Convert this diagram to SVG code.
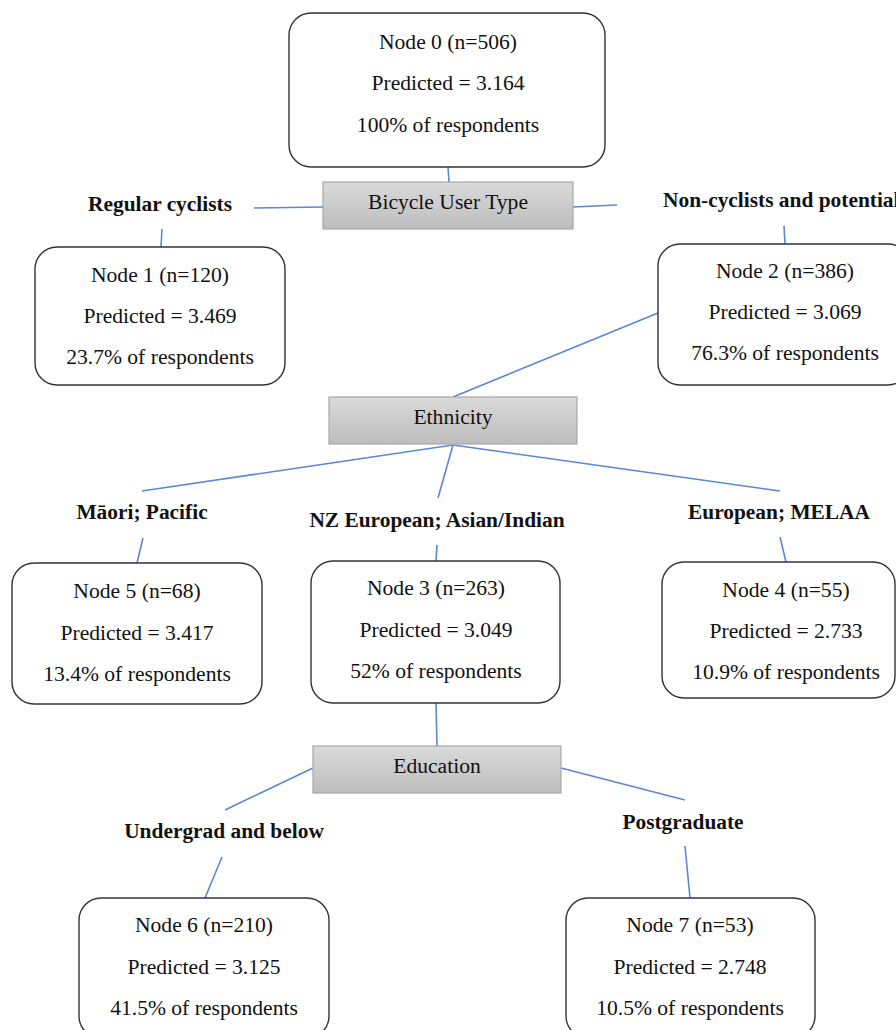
<svg xmlns="http://www.w3.org/2000/svg" width="896" height="1030" viewBox="0 0 896 1030">
<defs>
<linearGradient id="g" x1="0" y1="0" x2="0" y2="1">
<stop offset="0" stop-color="#dadada"/>
<stop offset="1" stop-color="#bdbdbd"/>
</linearGradient>
<style>
.node{fill:#fff;stroke:#333;stroke-width:1.4}
.split{fill:url(#g);stroke:#a8a8a8;stroke-width:1.2}
.t{font-family:'Liberation Serif','Times New Roman',serif;font-size:21.6px;fill:#111;text-anchor:middle}
.b{font-family:'Liberation Serif','Times New Roman',serif;font-size:21.4px;font-weight:bold;fill:#111;text-anchor:middle}
.c{stroke:#5b87d6;stroke-width:1.6;fill:none}
</style>
</defs>
<rect width="896" height="1030" fill="#fff"/>
<g id="connectors">
<line class="c" x1="448" y1="167" x2="449" y2="182"/>
<line class="c" x1="323" y1="207" x2="254" y2="208"/>
<line class="c" x1="573" y1="207" x2="617" y2="205"/>
<line class="c" x1="162" y1="229" x2="161" y2="247"/>
<line class="c" x1="784" y1="226" x2="785" y2="244"/>
<line class="c" x1="658" y1="313" x2="453" y2="397"/>
<line class="c" x1="453" y1="445" x2="142" y2="491"/>
<line class="c" x1="453" y1="445" x2="438" y2="498"/>
<line class="c" x1="453" y1="445" x2="780" y2="491"/>
<line class="c" x1="143" y1="538" x2="137" y2="563"/>
<line class="c" x1="437" y1="545" x2="436" y2="561"/>
<line class="c" x1="780" y1="537" x2="786" y2="562"/>
<line class="c" x1="436" y1="703" x2="437" y2="746"/>
<line class="c" x1="313" y1="768" x2="225" y2="810"/>
<line class="c" x1="561" y1="768" x2="685" y2="800"/>
<line class="c" x1="222" y1="857" x2="205" y2="898"/>
<line class="c" x1="685" y1="846" x2="690" y2="898"/>
</g>
<g id="node0">
<rect class="node" x="289" y="13" width="316" height="154" rx="22"/>
<text class="t" x="448" y="49">Node 0 (n=506)</text>
<text class="t" x="448" y="90">Predicted = 3.164</text>
<text class="t" x="448" y="132">100% of respondents</text>
</g>
<g id="split-bicycle">
<rect class="split" x="323" y="182" width="250" height="47"/>
<text class="t" x="448" y="209">Bicycle User Type</text>
</g>
<g id="label-regular"><text class="b" x="160" y="211">Regular cyclists</text></g>
<g id="label-noncyclists"><text class="b" x="663" y="207" style="text-anchor:start">Non-cyclists and potential</text></g>
<g id="node1">
<rect class="node" x="35" y="247" width="250" height="138" rx="22"/>
<text class="t" x="160" y="282">Node 1 (n=120)</text>
<text class="t" x="160" y="323">Predicted = 3.469</text>
<text class="t" x="160" y="364">23.7% of respondents</text>
</g>
<g id="node2">
<rect class="node" x="658" y="244" width="252" height="141" rx="22"/>
<text class="t" x="785" y="278">Node 2 (n=386)</text>
<text class="t" x="785" y="319">Predicted = 3.069</text>
<text class="t" x="785" y="360">76.3% of respondents</text>
</g>
<g id="split-ethnicity">
<rect class="split" x="329" y="397" width="248" height="47"/>
<text class="t" x="453" y="424">Ethnicity</text>
</g>
<g id="label-maori"><text class="b" x="142" y="519">Māori; Pacific</text></g>
<g id="label-nz"><text class="b" x="437" y="527">NZ European; Asian/Indian</text></g>
<g id="label-european"><text class="b" x="779" y="519">European; MELAA</text></g>
<g id="node5">
<rect class="node" x="12" y="563" width="250" height="141" rx="22"/>
<text class="t" x="137" y="598">Node 5 (n=68)</text>
<text class="t" x="137" y="640">Predicted = 3.417</text>
<text class="t" x="137" y="681">13.4% of respondents</text>
</g>
<g id="node3">
<rect class="node" x="311" y="561" width="249" height="142" rx="22"/>
<text class="t" x="436" y="595">Node 3 (n=263)</text>
<text class="t" x="436" y="637">Predicted = 3.049</text>
<text class="t" x="436" y="678">52% of respondents</text>
</g>
<g id="node4">
<rect class="node" x="662" y="562" width="233" height="136" rx="22"/>
<text class="t" x="786" y="597">Node 4 (n=55)</text>
<text class="t" x="786" y="638">Predicted = 2.733</text>
<text class="t" x="786" y="679">10.9% of respondents</text>
</g>
<g id="split-education">
<rect class="split" x="313" y="746" width="248" height="47"/>
<text class="t" x="437" y="773">Education</text>
</g>
<g id="label-undergrad"><text class="b" x="224" y="838">Undergrad and below</text></g>
<g id="label-postgrad"><text class="b" x="683" y="829">Postgraduate</text></g>
<g id="node6">
<rect class="node" x="79" y="898" width="250" height="140" rx="22"/>
<text class="t" x="204" y="932">Node 6 (n=210)</text>
<text class="t" x="204" y="974">Predicted = 3.125</text>
<text class="t" x="204" y="1015">41.5% of respondents</text>
</g>
<g id="node7">
<rect class="node" x="566" y="898" width="249" height="140" rx="22"/>
<text class="t" x="690" y="932">Node 7 (n=53)</text>
<text class="t" x="690" y="974">Predicted = 2.748</text>
<text class="t" x="690" y="1015">10.5% of respondents</text>
</g>
</svg>
